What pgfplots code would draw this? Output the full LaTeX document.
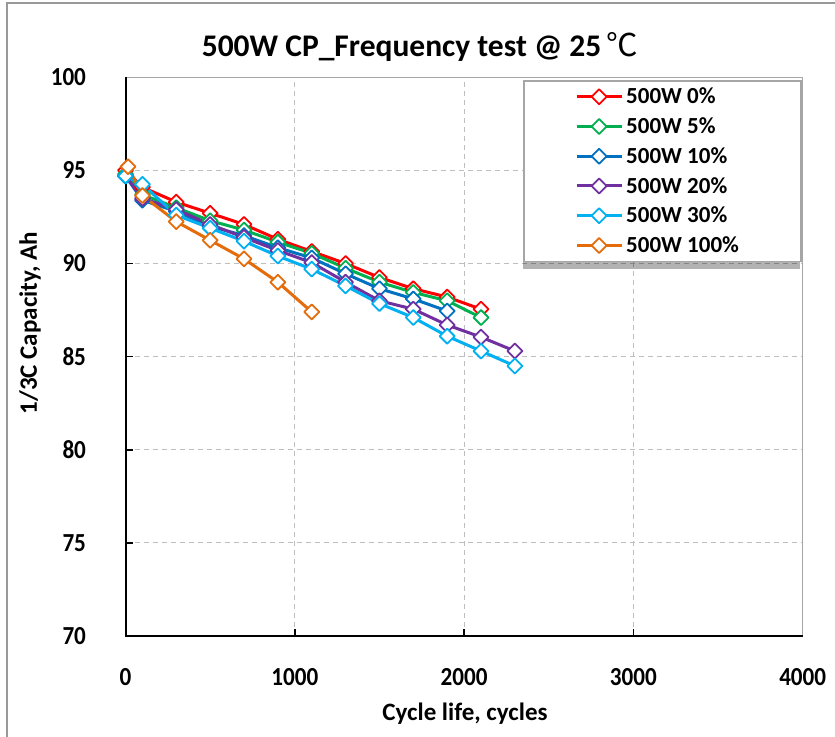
\documentclass[border=0pt]{standalone}
\usepackage{fontspec}
\setmainfont{Carlito}
\newfontfamily\cond[FakeStretch=0.89]{Carlito}
\newfontfamily\cjk{Noto Sans CJK SC}
\usepackage{pgfplots}
\pgfplotsset{compat=1.18}
\definecolor{cRed}{RGB}{255,0,0}
\definecolor{cGreen}{RGB}{0,176,80}
\definecolor{cBlue}{RGB}{0,112,192}
\definecolor{cPurple}{RGB}{112,48,160}
\definecolor{cCyan}{RGB}{0,176,240}
\definecolor{cOrange}{RGB}{228,108,10}
\definecolor{gridgray}{RGB}{190,190,190}
\pgfplotsset{
  ser/.style={draw=#1, line width=3pt, line join=round,
    mark=square*, mark size=5.3pt,
    mark options={rotate=45, fill=white, draw=#1, line width=1.8pt, solid}},
}
\begin{document}
\begin{tikzpicture}
\useasboundingbox (0,0) rectangle (835pt,736pt);
\fill[white] (0,0) rectangle (835pt,736pt);
\draw[gray!80, line width=2.5pt] (7pt,-20pt) -- (7pt,733pt) -- (850pt,733pt);
\begin{axis}[
  at={(125.5pt,100pt)}, anchor=south west,
  scale only axis, width=677.2pt, height=558.7pt,
  xmin=0, xmax=4000, ymin=70, ymax=100,
  xtick={0,1000,2000,3000,4000},
  ytick={70,75,80,85,90,95,100},
  tick pos=left, tick align=inside,
  major tick length=7pt,
  tick style={black, line width=1.5pt},
  axis line style={draw=gray!70, line width=1pt},
  grid=major,
  major grid style={draw=gridgray, line width=1.2pt, dash pattern=on 5pt off 4pt},
  /pgf/number format/assume math mode=true,
  /pgf/number format/1000 sep={},
  tick label style={font=\cond\fontsize{26}{30}\selectfont\bfseries},
  xticklabel style={yshift=-29pt},
  yticklabel style={xshift=-36pt},
  clip=false,
  legend cell align=left,
  legend image code/.code={\draw[mark repeat=2,mark phase=2,#1] plot coordinates {(0pt,0pt) (22.5pt,0pt) (45pt,0pt)};},
  legend style={at={(0.9985,0.995)}, anchor=north east,
    draw=gray!70, line width=1.5pt, fill=white,
    inner xsep=51pt, inner ysep=1pt,
    nodes={inner xsep=3pt, inner ysep=6.2pt},
    font=\fontsize{23}{27}\selectfont\bfseries},
]
\draw[black, line width=2pt] (rel axis cs:0,1) -- (rel axis cs:0,0) -- (rel axis cs:1,0);
\fill[black, opacity=0.3] ([xshift=-1pt,yshift=-5pt]rel axis cs:0.5885,0.666) rectangle ([xshift=-1pt,yshift=-5pt]rel axis cs:0.997,0.995);
\addplot[ser=cRed] coordinates {(0,95.0) (100,94.1) (300,93.3) (500,92.7) (700,92.1) (900,91.3) (1100,90.65) (1300,90.0) (1500,89.25) (1700,88.65) (1900,88.2) (2100,87.55)};
\addlegendentry{500W 0\%}
\addplot[ser=cGreen] coordinates {(0,94.8) (100,93.7) (300,93.0) (500,92.3) (700,91.8) (900,91.15) (1100,90.55) (1300,89.75) (1500,89.0) (1700,88.45) (1900,88.0) (2100,87.1)};
\addlegendentry{500W 5\%}
\addplot[ser=cBlue] coordinates {(0,94.7) (100,93.4) (300,92.8) (500,92.0) (700,91.5) (900,90.85) (1100,90.3) (1300,89.45) (1500,88.65) (1700,88.1) (1900,87.45)};
\addlegendentry{500W 10\%}
\addplot[ser=cPurple] coordinates {(0,94.7) (100,93.5) (300,92.9) (500,92.1) (700,91.4) (900,90.7) (1100,90.05) (1300,89.0) (1500,88.0) (1700,87.55) (1900,86.7) (2100,86.05) (2300,85.3)};
\addlegendentry{500W 20\%}
\addplot[ser=cCyan] coordinates {(0,94.7) (100,94.25) (300,92.6) (500,91.9) (700,91.2) (900,90.4) (1100,89.7) (1300,88.8) (1500,87.85) (1700,87.1) (1900,86.1) (2100,85.3) (2300,84.5)};
\addlegendentry{500W 30\%}
\addplot[ser=cOrange] coordinates {(15,95.2) (100,93.65) (300,92.25) (500,91.25) (700,90.25) (900,89.0) (1100,87.4)};
\addlegendentry{500W 100\%\hspace*{8pt}}
\end{axis}
\node[anchor=base, font=\fontsize{31.5}{38}\selectfont\bfseries] at (420pt,679pt) {500W CP\_Frequency test @ 25\,{\cjk\mdseries ℃}};
\node[anchor=base, font=\fontsize{25}{30}\selectfont\bfseries] at (465pt,16pt) {Cycle life, cycles};
\node[rotate=90, font=\fontsize{25}{30}\selectfont\bfseries] at (30pt,413pt) {1/3C Capacity, Ah};
\end{tikzpicture}
\end{document}
